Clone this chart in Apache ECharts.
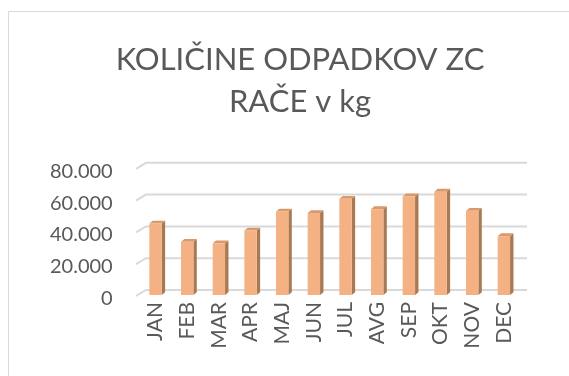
<!DOCTYPE html>
<html>
<head>
<meta charset="utf-8">
<style>
  html, body { margin: 0; padding: 0; background: #fff; }
  #chart { width: 569px; height: 376px; }
</style>
<script src="https://cdn.jsdelivr.net/npm/echarts@6/dist/echarts.min.js"></script>
</head>
<body>
<div id="chart"></div>
<script>
// Monthly waste quantities (kg)
const months = ['JAN', 'FEB', 'MAR', 'APR', 'MAJ', 'JUN', 'JUL', 'AVG', 'SEP', 'OKT', 'NOV', 'DEC'];
const wasteKg = [45000, 33500, 32500, 40500, 52500, 51500, 60500, 54000, 62000, 65000, 53000, 37000];
const yTicks = [0, 20000, 40000, 60000, 80000];
const yTickLabels = ['0', '20.000', '40.000', '60.000', '80.000'];

const TEXT = '#595959';
const FONT = 'Lato, "Liberation Sans", sans-serif';
const FRONT = '#F4B183';
const SIDE = '#A97952';
const TOP = '#D9996B';
const GRIDC = '#D9D9D9';

const chart = echarts.init(document.getElementById('chart'), null, { renderer: 'canvas' });

// Back wall gridlines with a short oblique stub towards the front
function renderWall(params, api) {
  const cs = params.coordSys;
  const y = api.coord([0, api.value(1)])[1];
  return {
    type: 'polyline',
    shape: { points: [[cs.x - 3.7, y + 1], [cs.x + 6.3, y - 5], [cs.x + cs.width + 7.3, y - 5]] },
    style: { stroke: GRIDC, lineWidth: 2, fill: null }
  };
}

// Column with front face, right side face and top face
function renderBar(params, api) {
  const i = api.value(0);
  const base = api.coord([i, 0]);
  const top = api.coord([i, api.value(1)]);
  const bw = 12.4, dx = 3.4, dy = 2.8;
  const x0 = base[0] - bw / 2, x1 = x0 + bw;
  const yb = base[1], yt = top[1];
  return {
    type: 'group',
    children: [
      { type: 'polygon', shape: { points: [[x1, yt], [x1 + dx, yt - dy], [x1 + dx, yb - dy], [x1, yb]] }, style: { fill: SIDE } },
      { type: 'polygon', shape: { points: [[x0, yt], [x0 + dx, yt - dy], [x1 + dx, yt - dy], [x1, yt]] }, style: { fill: TOP } },
      { type: 'rect', shape: { x: x0, y: yt, width: bw, height: yb - yt }, style: { fill: FRONT } }
    ]
  };
}

chart.setOption({
  animation: false,
  backgroundColor: '#fff',
  title: {
    text: 'KOLIČINE ODPADKOV ZC\nRAČE v kg',
    left: 295,
    top: 34,
    textAlign: 'center',
    textStyle: { fontFamily: FONT, fontSize: 31, fontWeight: 'normal', color: TEXT, lineHeight: 42 }
  },
  graphic: [{
    type: 'rect',
    shape: { x: 8.5, y: 11.5, width: 574, height: 400 },
    style: { fill: null, stroke: '#D9D9D9', lineWidth: 1 },
    silent: true
  }],
  grid: { left: 139.7, right: 49.3, top: 167.8, bottom: 81 },
  xAxis: {
    type: 'category',
    data: months,
    axisLine: { show: false },
    axisTick: { show: false },
    axisLabel: { rotate: 90, margin: 7, fontFamily: FONT, fontSize: 21, color: TEXT }
  },
  yAxis: {
    type: 'value',
    min: 0,
    max: 80000,
    interval: 20000,
    splitLine: { show: false },
    axisLine: { show: false },
    axisTick: { show: false },
    axisLabel: {
      margin: 27,
      fontFamily: FONT,
      fontSize: 20,
      color: TEXT,
      verticalAlign: 'top',
      lineHeight: 7,
      formatter: v => yTickLabels[yTicks.indexOf(v)]
    }
  },
  series: [
    {
      type: 'custom',
      renderItem: renderWall,
      data: yTicks.map(v => [0, v]),
      z: 1,
      silent: true
    },
    {
      type: 'custom',
      renderItem: renderBar,
      data: wasteKg.map((v, i) => [i, v]),
      z: 2
    }
  ]
});
</script>
</body>
</html>
